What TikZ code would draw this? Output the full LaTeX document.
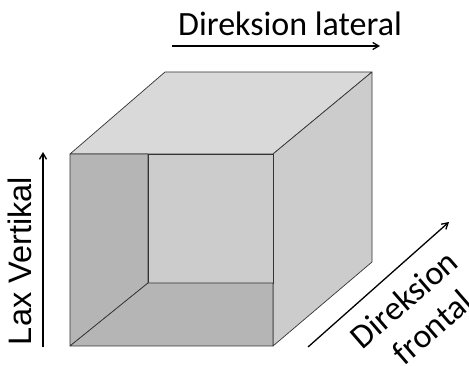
\documentclass[tikz,border=0pt]{standalone}
\usepackage{fontspec}
\setmainfont{Carlito}
\newfontfamily\arialfont{Liberation Sans}
\usetikzlibrary{arrows.meta}
\begin{document}
\begin{tikzpicture}[x=1pt,y=-1pt,
  face/.style={draw=black!80, line width=0.7pt, line join=round},
  arr/.style={-{Straight Barb[length=6pt,width=7pt]}, line width=1.3pt},
  lbl/.style={font=\fontsize{34}{38}\selectfont, inner sep=0pt}]
\useasboundingbox (0,0) rectangle (469,366);
% outer cube corners
\coordinate (ftl) at (70,154);
\coordinate (ftr) at (273,154);
\coordinate (fbl) at (70,346);
\coordinate (fbr) at (273,346);
\coordinate (btl) at (165,72);
\coordinate (btr) at (372,72);
\coordinate (bbr) at (372,262);
% inner back wall
\coordinate (itl) at (148,154);
\coordinate (ibl) at (148,283);
\coordinate (ibr) at (273,283);
% faces
\filldraw[face, fill=black!15] (ftl) -- (btl) -- (btr) -- (ftr) -- cycle;
\filldraw[face, fill=black!20] (ftr) -- (btr) -- (bbr) -- (fbr) -- cycle;
\filldraw[face, fill=black!29] (ftl) -- (itl) -- (ibl) -- (fbl) -- cycle;
\filldraw[face, fill=black!20] (itl) -- (ftr) -- (ibr) -- (ibl) -- cycle;
\filldraw[face, fill=black!29] (fbl) -- (ibl) -- (ibr) -- (fbr) -- cycle;
% labels and arrows
\node[lbl] (lat) at (290,24) {Direksion lateral};
\coordinate (la1) at (172,46);
\coordinate (la2) at (380,46);
\draw[arr] (la1) -- (la2);
\node[inner sep=0pt, font=\arialfont\fontsize{32.5}{36}\selectfont, rotate=90] (vert) at (20,261) {Lax Vertikal};
\coordinate (va1) at (43,347);
\coordinate (va2) at (43,152);
\draw[arr] (va1) -- (va2);
\coordinate (fa1) at (308,347);
\coordinate (fa2) at (449,222);
\draw[arr] (fa1) -- (fa2);
\node[lbl, rotate=41] (dir) at (404,299) {Direksion};
\node[lbl, rotate=41] (fro) at (432,327) {frontal};
\end{tikzpicture}
\end{document}
